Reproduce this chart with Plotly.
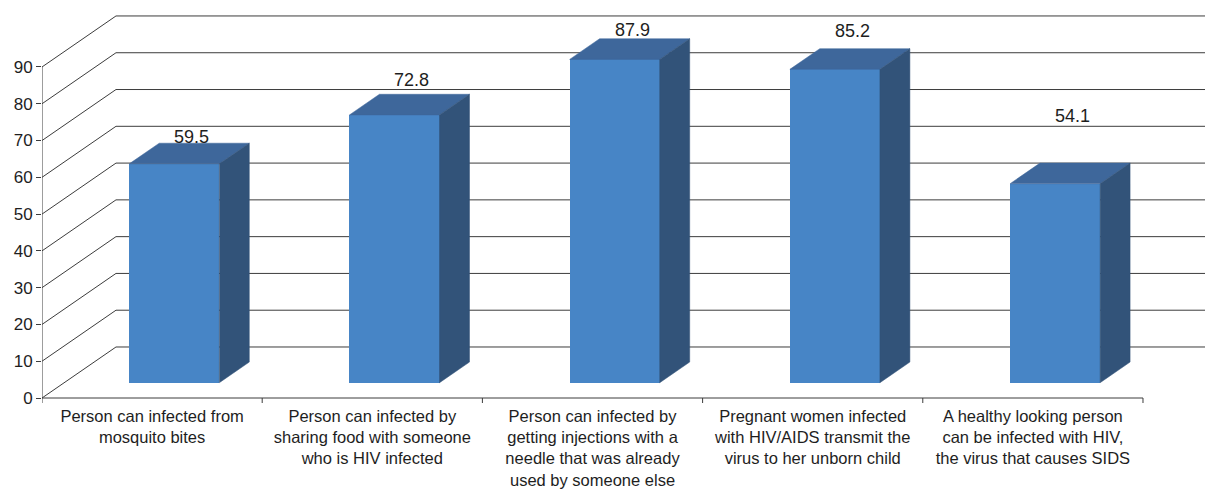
import plotly.graph_objects as go

# Survey results: share of respondents (%) answering each HIV statement
categories = [
    "Person can infected from<br>mosquito bites",
    "Person can infected by<br>sharing food with someone<br>who is HIV infected",
    "Person can infected by<br>getting injections with a<br>needle that was already<br>used by someone else",
    "Pregnant women infected<br>with HIV/AIDS transmit the<br>virus to her unborn child",
    "A healthy looking person<br>can be infected with HIV,<br>the virus that causes SIDS",
]
values = [59.5, 72.8, 87.9, 85.2, 54.1]
y_ticks = [0, 10, 20, 30, 40, 50, 60, 70, 80, 90]

# Pseudo-3D geometry (axis units): depth offset of the back wall
DEPTH_DX = 0.336      # category units
DEPTH_DY = 13.87      # value units
BAR_W = 0.409
FRONT = 0.30          # bar front face position along depth
BACK = 0.705          # bar back face position along depth
fx, fy = FRONT * DEPTH_DX, FRONT * DEPTH_DY
bx, by = BACK * DEPTH_DX, BACK * DEPTH_DY

# Pixel offsets lifting each value label above its bar's top face
label_lift = [6, 14, 9, 18, 47]

C_FRONT = "#4785c6"
C_TOP = "#3e679b"
C_SIDE = "#325379"
C_GRID = "#3c3c3c"
FONT = "Liberation Sans, Arial, sans-serif"

X_MIN, X_MAX = -0.5, 4.7816
Y_MIN, Y_MAX = -1.63, 106.85
n = len(categories)

fig = go.Figure()

# Front faces of the bars
fig.add_trace(go.Bar(
    x=[i + fx for i in range(n)], y=values, base=fy, width=BAR_W,
    marker=dict(color=C_FRONT, line=dict(width=0)),
    hoverinfo="skip",
))

# Top and right-side faces
for i, v in enumerate(values):
    xl, xr = i - BAR_W / 2, i + BAR_W / 2
    fig.add_trace(go.Scatter(
        x=[xl + fx, xr + fx, xr + bx, xl + bx, xl + fx],
        y=[v + fy, v + fy, v + by, v + by, v + fy],
        fill="toself", fillcolor=C_TOP, mode="lines",
        line=dict(color=C_TOP, width=0.5), hoverinfo="skip",
    ))
    fig.add_trace(go.Scatter(
        x=[xr + fx, xr + fx, xr + bx, xr + bx, xr + fx],
        y=[fy, v + fy, v + by, by, fy],
        fill="toself", fillcolor=C_SIDE, mode="lines",
        line=dict(color=C_SIDE, width=0.5), hoverinfo="skip",
    ))

shapes = []
line_style = dict(color=C_GRID, width=1)
for t in y_ticks:
    # back-wall gridline
    shapes.append(dict(type="line", xref="x", yref="y", layer="below",
                       x0=X_MIN + DEPTH_DX, x1=X_MAX + 0.2,
                       y0=t + DEPTH_DY, y1=t + DEPTH_DY, line=line_style))
    # side-wall diagonal
    shapes.append(dict(type="line", xref="x", yref="y", layer="below",
                       x0=X_MIN, x1=X_MIN + DEPTH_DX,
                       y0=t, y1=t + DEPTH_DY, line=line_style))
# front value axis
shapes.append(dict(type="line", xref="x", yref="y", layer="below",
                   x0=X_MIN, x1=X_MIN, y0=0, y1=y_ticks[-1], line=line_style))
# front category axis and its boundary ticks
shapes.append(dict(type="line", xref="x", yref="y", layer="below",
                   x0=X_MIN, x1=n - 0.5, y0=0, y1=0, line=line_style))
for k in range(n + 1):
    shapes.append(dict(type="line", xref="x", yref="y", layer="below",
                       x0=k - 0.5, x1=k - 0.5, y0=0, y1=-1.36, line=line_style))

annotations = []
for i, v in enumerate(values):
    annotations.append(dict(
        x=i + 0.18, y=v + by, xref="x", yref="y",
        text=f"{v:.1f}", showarrow=False, yanchor="middle",
        yshift=label_lift[i],
        font=dict(family=FONT, size=18, color="#1e1e1e"),
    ))

fig.update_layout(
    width=1205, height=489,
    margin=dict(l=42, r=0, t=5, b=85),
    paper_bgcolor="white", plot_bgcolor="white",
    showlegend=False, hovermode=False, bargap=0,
    shapes=shapes, annotations=annotations,
    font=dict(family=FONT, color="#1e1e1e"),
    xaxis=dict(range=[X_MIN, X_MAX], tickvals=list(range(n)), ticktext=categories,
               showgrid=False, zeroline=False, showline=False, ticks="",
               automargin=False,
               tickfont=dict(size=16.5, family=FONT, color="#1e1e1e")),
    yaxis=dict(range=[Y_MIN, Y_MAX], tickvals=y_ticks,
               showgrid=False, zeroline=False, showline=False,
               ticks="outside", ticklen=5, tickcolor=C_GRID, tickwidth=1,
               automargin=False,
               tickfont=dict(size=17, family=FONT, color="#1e1e1e")),
)

fig.write_html("out.html")
